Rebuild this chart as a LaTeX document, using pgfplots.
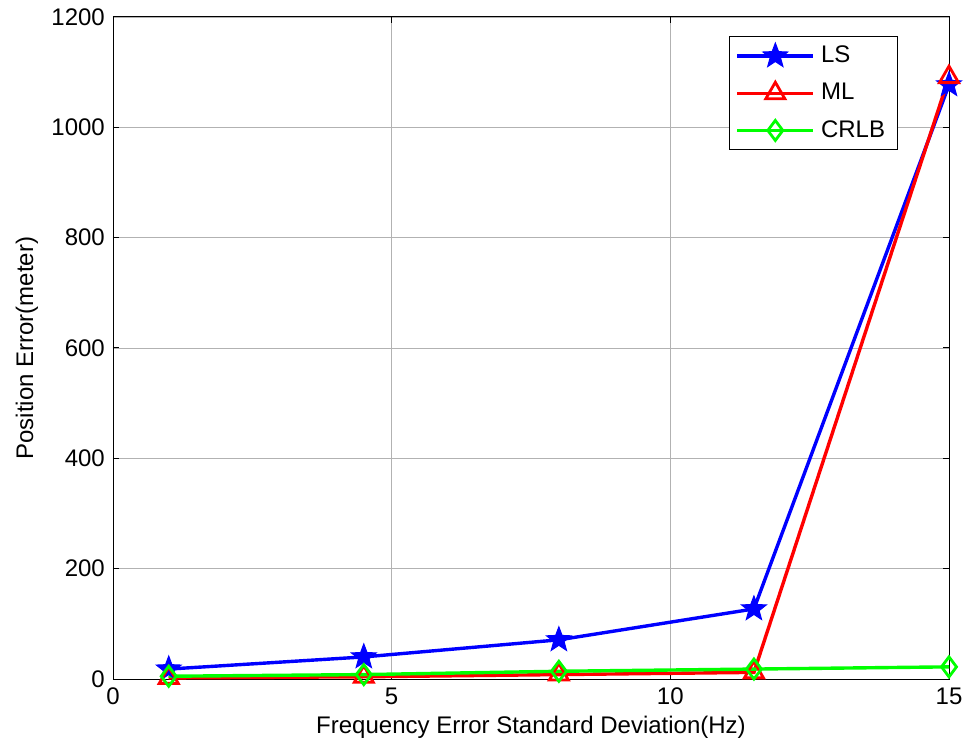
\documentclass[border=0pt]{standalone}
\usepackage{pgfplots}
\pgfplotsset{compat=1.18}
\usepackage{fontspec}
\setmainfont{Liberation Sans}
\usetikzlibrary{plotmarks}

% filled five-pointed star
\pgfdeclareplotmark{fivestar}{%
  \pgfpathmoveto{\pgfqpointpolar{90}{\pgfplotmarksize}}%
  \pgfpathlineto{\pgfqpointpolar{126}{0.42\pgfplotmarksize}}%
  \pgfpathlineto{\pgfqpointpolar{162}{\pgfplotmarksize}}%
  \pgfpathlineto{\pgfqpointpolar{198}{0.42\pgfplotmarksize}}%
  \pgfpathlineto{\pgfqpointpolar{234}{\pgfplotmarksize}}%
  \pgfpathlineto{\pgfqpointpolar{270}{0.42\pgfplotmarksize}}%
  \pgfpathlineto{\pgfqpointpolar{306}{\pgfplotmarksize}}%
  \pgfpathlineto{\pgfqpointpolar{342}{0.42\pgfplotmarksize}}%
  \pgfpathlineto{\pgfqpointpolar{18}{\pgfplotmarksize}}%
  \pgfpathlineto{\pgfqpointpolar{54}{0.42\pgfplotmarksize}}%
  \pgfpathclose
  \pgfusepathqfillstroke
}

\pgfplotstableread{
x     ls     ml     crlb
1     18     2      5
4.5   40     4      8
8     71     8      14
11.5  127    12     18
15    1077   1091   22
}\errdata

\begin{document}
\fontsize{24bp}{28bp}\selectfont
\begin{tikzpicture}
\begin{axis}[
  scale only axis,
  width=836bp, height=662bp,
  xmin=0, xmax=15, ymin=0, ymax=1200,
  xtick={0,5,10,15}, ytick={0,200,400,600,800,1000,1200},
  /pgf/number format/assume math mode=true,
  /pgf/number format/1000 sep={},
  tick align=inside,
  major tick length=6bp,
  tick style={black, line width=1pt},
  axis line style={black, line width=1pt},
  grid=major,
  major grid style={gray!60, line width=0.8pt},
  xlabel={Frequency Error Standard Deviation(Hz)},
  ylabel={Position Error(meter)},
  xlabel style={yshift=5bp},
  ylabel style={yshift=-3bp},
  xticklabel style={yshift=-1bp},
  tick label style={font=\fontsize{24bp}{28bp}\selectfont},
  label style={font=\fontsize{24bp}{28bp}\selectfont},
  legend style={at={(0.737,0.972)}, anchor=north west, draw=black,
    line width=1pt, font=\fontsize{24bp}{28bp}\selectfont,
    inner xsep=6bp, inner ysep=7bp, row sep=13bp, cells={anchor=west},
    nodes={inner xsep=6bp}},
  legend image code/.code={
    \draw[mark repeat=2,mark phase=2] plot coordinates {(0bp,0bp) (38bp,0bp) (76bp,0bp)};
  },
]
\addplot[blue, line width=3.4bp, mark=fivestar, mark size=13bp,
  mark options={line width=1pt, solid, fill=blue}] table[x=x, y=ls] {\errdata};
\addlegendentry{LS}
\addplot[red, line width=3.4bp, mark=triangle, mark size=11bp,
  mark options={line width=2.8bp, solid}] table[x=x, y=ml] {\errdata};
\addlegendentry{ML}
\addplot[green, line width=3.4bp, mark=diamond, mark size=10bp,
  mark options={line width=2.8bp, solid}] table[x=x, y=crlb] {\errdata};
\addlegendentry{CRLB}
\end{axis}
\pgfresetboundingbox
\path[use as bounding box] (current axis.south west) ++(-113bp,-76bp) rectangle ++(968bp,755bp);
\end{tikzpicture}
\end{document}
